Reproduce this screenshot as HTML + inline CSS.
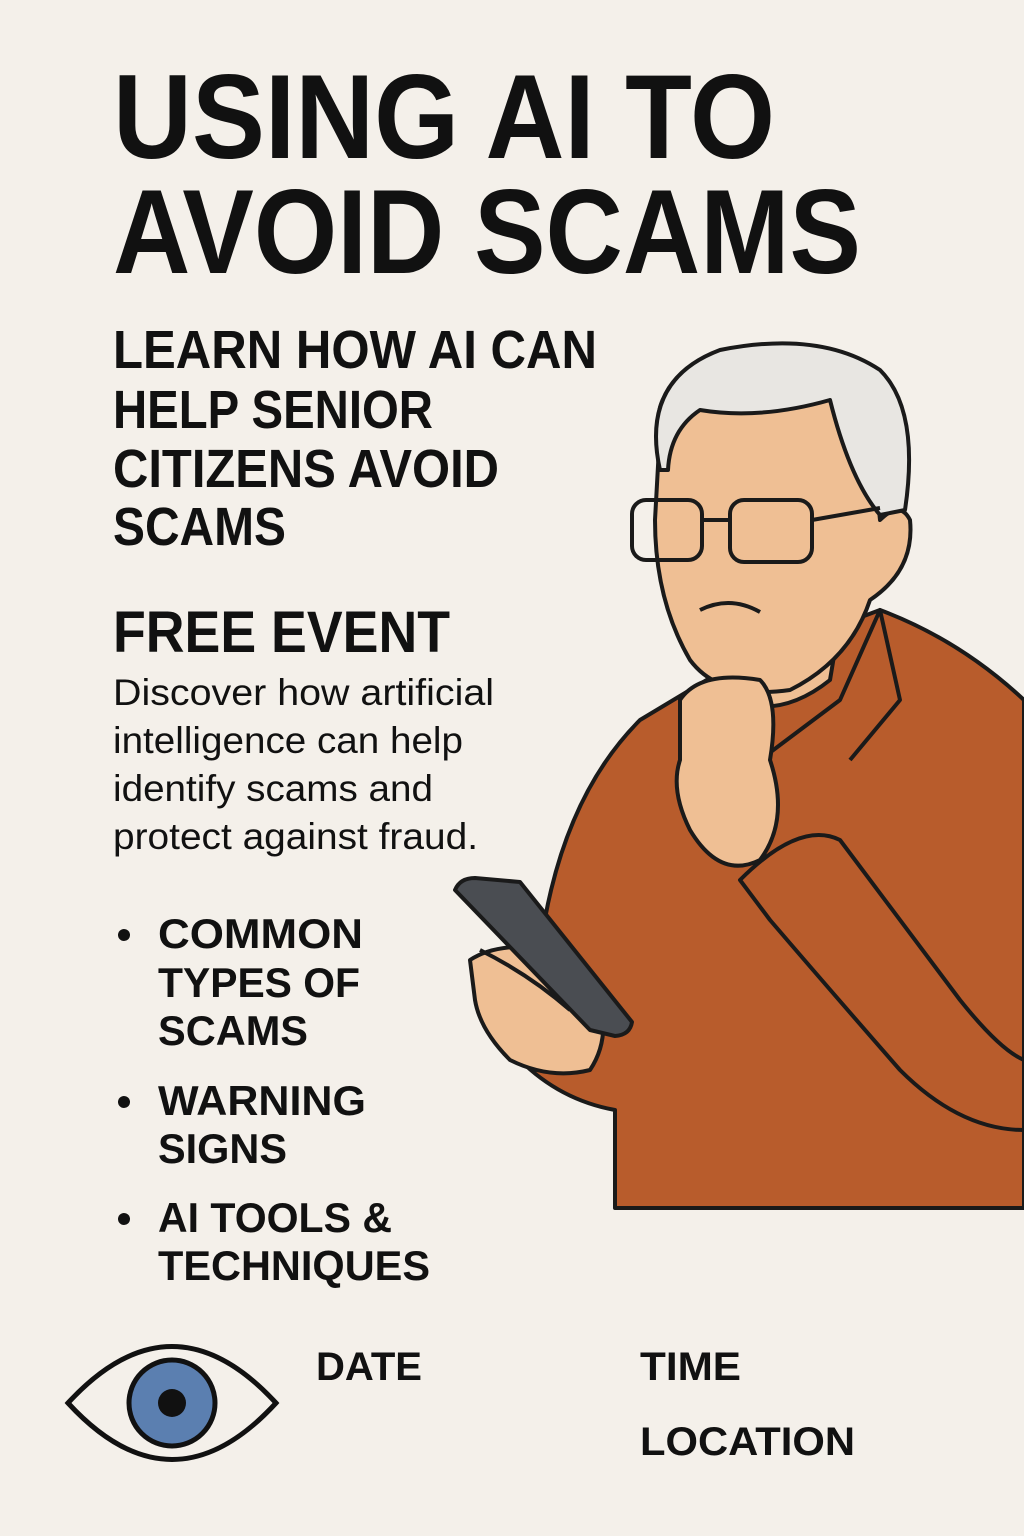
<!DOCTYPE html>
<html><head><meta charset="utf-8"><style>
html,body{margin:0;padding:0;background:#f4f0ea}
svg{display:block}
text{font-family:"Liberation Sans",sans-serif;fill:#111}
</style></head><body>
<svg width="1024" height="1536" viewBox="0 0 1024 1536">
<rect width="1024" height="1536" fill="#f4f0ea"/>
<g font-weight="bold">
<text x="113" y="158" font-size="120" textLength="662" lengthAdjust="spacingAndGlyphs">USING AI TO</text>
<text x="113" y="273" font-size="120" textLength="748" lengthAdjust="spacingAndGlyphs">AVOID SCAMS</text>
</g>
<g font-size="54" font-weight="bold">
<text x="113" y="368" textLength="484" lengthAdjust="spacingAndGlyphs">LEARN HOW AI CAN</text>
<text x="113" y="428" textLength="320" lengthAdjust="spacingAndGlyphs">HELP SENIOR</text>
<text x="113" y="487" textLength="386" lengthAdjust="spacingAndGlyphs">CITIZENS AVOID</text>
<text x="113" y="545" textLength="173" lengthAdjust="spacingAndGlyphs">SCAMS</text>
</g>
<text x="113" y="652" font-size="58" font-weight="bold" textLength="337" lengthAdjust="spacingAndGlyphs">FREE EVENT</text>
<g font-size="37">
<text x="113" y="705" textLength="381" lengthAdjust="spacingAndGlyphs">Discover how artificial</text>
<text x="113" y="753" textLength="350" lengthAdjust="spacingAndGlyphs">intelligence can help</text>
<text x="113" y="801" textLength="320" lengthAdjust="spacingAndGlyphs">identify scams and</text>
<text x="113" y="849" textLength="365" lengthAdjust="spacingAndGlyphs">protect against fraud.</text>
</g>
<g font-size="42" font-weight="bold">
<circle cx="124" cy="935" r="6" fill="#111"/>
<text x="158" y="948" textLength="205" lengthAdjust="spacingAndGlyphs">COMMON</text>
<text x="158" y="997" textLength="202" lengthAdjust="spacingAndGlyphs">TYPES OF</text>
<text x="158" y="1045" textLength="150" lengthAdjust="spacingAndGlyphs">SCAMS</text>
<circle cx="124" cy="1102" r="6" fill="#111"/>
<text x="158" y="1115" textLength="208" lengthAdjust="spacingAndGlyphs">WARNING</text>
<text x="158" y="1163" textLength="129" lengthAdjust="spacingAndGlyphs">SIGNS</text>
<circle cx="124" cy="1219" r="6" fill="#111"/>
<text x="158" y="1232" textLength="234" lengthAdjust="spacingAndGlyphs">AI TOOLS &amp;</text>
<text x="158" y="1280" textLength="272" lengthAdjust="spacingAndGlyphs">TECHNIQUES</text>
</g>
<g>
<path d="M68 1403 Q172 1290 276 1403 Q172 1516 68 1403 Z" fill="#f4f0ea" stroke="#111" stroke-width="5"/>
<circle cx="172" cy="1403" r="43" fill="#5b7fb0" stroke="#111" stroke-width="5"/>
<circle cx="172" cy="1403" r="14" fill="#111"/>
</g>
<g font-size="40" font-weight="bold">
<text x="316" y="1380" textLength="106" lengthAdjust="spacingAndGlyphs">DATE</text>
<text x="640" y="1380" textLength="101" lengthAdjust="spacingAndGlyphs">TIME</text>
<text x="640" y="1455" textLength="215" lengthAdjust="spacingAndGlyphs">LOCATION</text>
</g>
<g stroke="#1a1a1a" stroke-width="4" stroke-linejoin="round">
<path d="M615 1208 L615 1110 Q560 1100 520 1060 L540 950 Q560 800 640 720 L740 660 Q800 640 880 610 Q960 640 1024 700 L1024 1208 Z" fill="#b85c2c"/>
<path d="M760 760 L840 700 L880 610 L900 700 L850 760" fill="#b85c2c"/>
<path d="M740 880 Q800 820 840 840 Q900 920 960 1000 Q1000 1050 1024 1060 L1024 1130 Q960 1130 900 1070 Q830 990 770 920 Z" fill="#b85c2c"/>
<path d="M720 640 L730 700 Q780 720 830 680 L840 620 Z" fill="#efbf94"/>
<path d="M660 430 Q650 380 720 370 Q820 360 870 420 L880 520 Q900 500 910 520 Q915 570 870 600 Q850 660 790 690 Q720 700 690 660 Q655 600 655 520 Z" fill="#efbf94"/>
<path d="M660 470 Q640 380 720 350 Q820 330 880 370 Q920 410 905 510 L880 515 Q850 480 830 400 Q760 420 700 410 Q670 430 668 470 Z" fill="#e8e6e2"/>
<g fill="none">
<rect x="632" y="500" width="70" height="60" rx="14"/>
<rect x="730" y="500" width="82" height="62" rx="14"/>
<path d="M702 520 L730 520 M812 520 L880 508"/>
</g>
<path d="M700 610 Q730 595 760 612" fill="none"/>
<path d="M680 700 Q700 670 760 680 Q780 700 770 760 Q790 820 760 860 Q720 880 690 830 Q670 790 680 760 Z" fill="#efbf94"/>
<path d="M470 960 Q500 940 560 950 L600 1000 Q610 1040 590 1070 Q550 1080 510 1060 Q480 1030 475 1000 Z" fill="#efbf94"/>
<path d="M455 890 Q460 878 475 878 L520 882 L632 1022 Q630 1035 615 1036 L590 1030 Z" fill="#4a4d52"/>
<path d="M480 950 Q530 975 570 1010" fill="none"/>
</g>
</svg>
</body></html>
